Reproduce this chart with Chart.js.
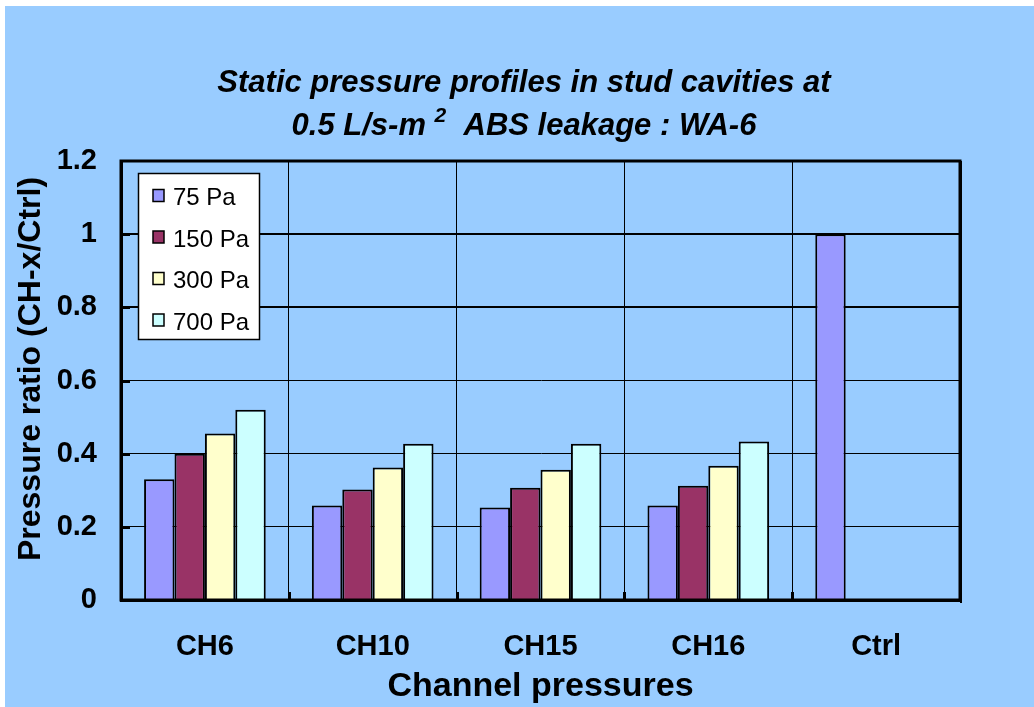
<!DOCTYPE html>
<html>
<head>
<meta charset="utf-8">
<script src="https://cdn.jsdelivr.net/npm/chart.js@4.4.1/dist/chart.umd.min.js"></script>
<style>
  html, body { margin: 0; padding: 0; background: #ffffff; }
  #wrap { position: absolute; left: 5px; top: 6px; width: 1029px; height: 701px; background: #99CCFF; }
</style>
</head>
<body>
<div id="wrap"><canvas id="c"></canvas></div>
<script>
// Channels along the x axis
const categories = ['CH6', 'CH10', 'CH15', 'CH16', 'Ctrl'];

// Pressure ratio per channel for each test pressure
const seriesNames = ['75 Pa', '150 Pa', '300 Pa', '700 Pa'];
const pa75  = [0.330, 0.258, 0.253, 0.258, 1.0];
const pa150 = [0.400, 0.302, 0.307, 0.312, null];
const pa300 = [0.455, 0.362, 0.356, 0.367, null];
const pa700 = [0.520, 0.427, 0.427, 0.433, null];

// Value axis
const yTicks = [0, 0.2, 0.4, 0.6, 0.8, 1, 1.2];

// Texts
const titleLine1 = 'Static pressure profiles in stud cavities at';
const titleLine2a = '0.5 L/s-m ';
const titleSup = '2';
const titleLine2b = '  ABS leakage : WA-6';
const xTitle = 'Channel pressures';
const yTitle = 'Pressure ratio (CH-x/Ctrl)';

const barColors = ['#9999FF', '#993366', '#FFFFCC', '#CCFFFF'];
const FONT = "'Liberation Sans', Arial, sans-serif";

const seriesValues = [pa75, pa150, pa300, pa700];
const datasets = seriesNames.map((name, i) => ({
  label: name,
  data: seriesValues[i],
  backgroundColor: barColors[i],
  borderColor: '#000000',
  borderWidth: 2,
  borderSkipped: 'bottom',
  categoryPercentage: 0.725,
  barPercentage: 1.0
}));

// Two-line heading with a superscript, plus the rotated value-axis title
const headingPlugin = {
  id: 'heading',
  afterDraw(chart) {
    const ctx = chart.ctx;
    ctx.save();
    ctx.fillStyle = '#000';
    ctx.textBaseline = 'alphabetic';
    const big = 'italic bold 31px ' + FONT;
    const small = 'italic bold 21px ' + FONT;
    const cx = 519;
    ctx.font = big;
    ctx.textAlign = 'center';
    ctx.fillText(titleLine1, cx, 86);
    ctx.textAlign = 'left';
    const wa = ctx.measureText(titleLine2a).width;
    const wb = ctx.measureText(titleLine2b).width;
    ctx.font = small;
    const ws = ctx.measureText(titleSup).width;
    let x = cx - (wa + ws + wb) / 2;
    const base = 129;
    ctx.font = big;
    ctx.fillText(titleLine2a, x, base);
    x += wa;
    ctx.font = small;
    ctx.fillText(titleSup, x, base - 13);
    x += ws;
    ctx.font = big;
    ctx.fillText(titleLine2b, x, base);

    // value-axis title
    ctx.translate(26, 363);
    ctx.rotate(-Math.PI / 2);
    ctx.textAlign = 'center';
    ctx.textBaseline = 'middle';
    ctx.font = 'bold 32px ' + FONT;
    ctx.fillText(yTitle, 0, 0);
    ctx.restore();
  }
};

// Frame, inner tick marks and boxed legend inside the plot
const framePlugin = {
  id: 'frame',
  afterDraw(chart) {
    const ctx = chart.ctx;
    const a = chart.chartArea;
    const xs = chart.scales.x;
    const ys = chart.scales.y;
    ctx.save();
    ctx.strokeStyle = '#000';
    ctx.fillStyle = '#000';

    // inner ticks on the value axis
    yTicks.forEach(v => {
      if (v <= 0 || v >= 1.2) return;
      const y = ys.getPixelForValue(v);
      ctx.fillRect(a.left, Math.round(y) - 1, 9, 3);
    });
    // inner ticks between categories
    for (let i = 0; i < categories.length - 1; i++) {
      const x = (xs.getPixelForValue(i) + xs.getPixelForValue(i + 1)) / 2;
      ctx.fillRect(Math.round(x) - 1, a.bottom - 8, 3, 8);
    }

    // plot frame
    ctx.lineWidth = 3;
    ctx.strokeRect(a.left, a.top, a.right - a.left, a.bottom - a.top);
    ctx.fillRect(a.right, a.top, 2, a.bottom - a.top + 3);
    ctx.fillRect(a.left, a.bottom, a.right - a.left + 2, 2);

    // legend
    const lx = 133.5, ly = 167.5, lw = 121, lh = 166;
    ctx.fillStyle = '#ffffff';
    ctx.fillRect(lx, ly, lw, lh);
    ctx.lineWidth = 1.5;
    ctx.strokeRect(lx, ly, lw, lh);
    ctx.font = '24px ' + FONT;
    ctx.textBaseline = 'middle';
    ctx.textAlign = 'left';
    chart.data.datasets.forEach((ds, i) => {
      const cy = 191.5 + i * 41.5;
      ctx.fillStyle = ds.backgroundColor;
      ctx.fillRect(148, cy - 8, 11, 12);
      ctx.strokeStyle = '#000';
      ctx.lineWidth = 1.5;
      ctx.strokeRect(148, cy - 8, 11, 12);
      ctx.fillStyle = '#000';
      ctx.fillText(ds.label, 168, cy + 1);
    });
    ctx.restore();
  }
};

new Chart(document.getElementById('c'), {
  type: 'bar',
  data: { labels: categories, datasets },
  options: {
    responsive: true,
    maintainAspectRatio: false,
    animation: false,
    layout: { padding: { top: 155, right: 74, bottom: 0, left: 0 } },
    plugins: {
      legend: { display: false },
      title: { display: false },
      tooltip: { enabled: false }
    },
    scales: {
      x: {
        grid: { display: true, offset: true, color: '#000', lineWidth: 1, drawTicks: false },
        border: { display: true, color: '#000', width: 3 },
        ticks: { color: '#000', font: { family: FONT, size: 29, weight: 'bold' }, padding: 30 },
        title: {
          display: true, text: xTitle, color: '#000',
          font: { family: FONT, size: 34, weight: 'bold' },
          padding: { top: 0, bottom: 0 }
        },
        afterFit(scale) { scale.height = 107; }
      },
      y: {
        min: 0, max: 1.2,
        grid: {
          color: '#000',
          lineWidth: c => (c.tick && (c.tick.value === 1 || Math.abs(c.tick.value - 0.8) < 1e-6)) ? 2 : 1,
          drawTicks: false
        },
        border: { display: true, color: '#000', width: 3 },
        afterBuildTicks(scale) { scale.ticks = yTicks.map(v => ({ value: v })); },
        ticks: {
          color: '#000',
          font: { family: FONT, size: 29, weight: 'bold' },
          padding: 24,
          callback: v => String(+Number(v).toFixed(1))
        },
        title: { display: false },
        afterFit(scale) { scale.width = 116; }
      }
    }
  },
  plugins: [headingPlugin, framePlugin]
});
</script>
</body>
</html>
